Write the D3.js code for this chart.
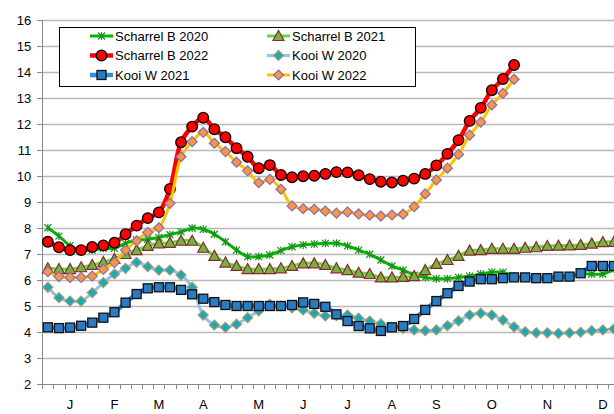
<!DOCTYPE html>
<meta charset="utf-8">
<style>
    body { margin: 0; background: #fff; }
    svg { display: block; font-family: "Liberation Sans", Arial, sans-serif; }
    .grid line { stroke: #b8b8b8; stroke-width: 1.5; }
    .axis path, .axis line { stroke: #888; shape-rendering: crispEdges; }
    .axis text { font-size: 13px; fill: #000; }
    .legend text { font-size: 13px; }
</style>
<body>
<script src="https://d3js.org/d3.v7.min.js"></script>
<script>
    // week numbers 1..52
    var weeks = d3.range(1, 53);

    // month labels and the week index they sit on
    var monthLabels = ["J", "F", "M", "A", "M", "J", "J", "A", "S", "O", "N", "D"];
    var monthWeek = [2, 6, 10, 14, 19, 23, 27, 31, 35, 40, 45, 50];

    var yTicks = [2, 3, 4, 5, 6, 7, 8, 9, 10, 11, 12, 13, 14, 15, 16];

    var scharrel2020 = [8.01, 7.69, 7.32, 7.15, 7.15, 7.22, 7.22, 7.41, 7.54, 7.56, 7.64, 7.74, 7.85, 7.99, 7.95, 7.76,
        7.47, 7.15, 6.90, 6.90, 6.96, 7.13, 7.28, 7.35, 7.38, 7.41, 7.41, 7.31, 7.15, 6.99, 6.77, 6.54,
        6.38, 6.19, 6.10, 6.05, 6.05, 6.10, 6.15, 6.23, 6.30, 6.30, 6.15, 6.10, 6.09, 6.09, 6.13, 6.13,
        6.23, 6.23, 6.23, 6.42];
    var scharrel2021 = [6.45, 6.42, 6.42, 6.49, 6.58, 6.69, 6.81, 7.00, 7.15, 7.31, 7.41, 7.43, 7.51, 7.51, 7.24, 6.93,
        6.67, 6.54, 6.42, 6.42, 6.42, 6.45, 6.54, 6.64, 6.64, 6.58, 6.45, 6.38, 6.28, 6.23, 6.10, 6.10,
        6.12, 6.15, 6.38, 6.62, 6.77, 6.93, 7.13, 7.15, 7.20, 7.20, 7.20, 7.24, 7.26, 7.31, 7.32, 7.33,
        7.35, 7.40, 7.46, 7.47];
    var scharrel2022 = [7.47, 7.26, 7.15, 7.15, 7.27, 7.33, 7.43, 7.76, 8.09, 8.38, 8.60, 9.50, 11.30, 11.90, 12.24, 11.80,
        11.49, 11.07, 10.74, 10.30, 10.42, 10.04, 9.95, 9.99, 10.01, 10.08, 10.15, 10.14, 10.03, 9.88, 9.78, 9.75,
        9.82, 9.90, 10.08, 10.41, 10.85, 11.38, 12.12, 12.62, 13.30, 13.73, 14.27];
    var kooi2020 = [5.72, 5.32, 5.19, 5.19, 5.51, 5.90, 6.23, 6.45, 6.68, 6.51, 6.38, 6.38, 6.19, 5.72, 4.65, 4.27,
        4.18, 4.30, 4.55, 4.81, 5.06, 5.00, 4.93, 4.85, 4.72, 4.62, 4.63, 4.65, 4.53, 4.42, 4.31, 4.18,
        4.14, 4.08, 4.05, 4.08, 4.24, 4.43, 4.65, 4.72, 4.65, 4.46, 4.20, 4.01, 3.97, 3.97, 3.95, 3.97,
        3.99, 4.05, 4.08, 4.12];
    var kooi2021 = [4.18, 4.15, 4.17, 4.24, 4.36, 4.55, 4.76, 5.13, 5.46, 5.68, 5.72, 5.72, 5.62, 5.45, 5.28, 5.15,
        5.04, 5.00, 5.00, 5.00, 5.00, 5.00, 5.04, 5.14, 5.08, 4.97, 4.68, 4.42, 4.23, 4.14, 4.04, 4.18,
        4.23, 4.50, 4.85, 5.19, 5.49, 5.77, 5.94, 6.03, 6.03, 6.07, 6.10, 6.10, 6.07, 6.07, 6.13, 6.13,
        6.26, 6.54, 6.54, 6.54];
    var kooi2022 = [6.32, 6.13, 6.10, 6.10, 6.15, 6.41, 6.67, 7.15, 7.51, 7.83, 8.01, 8.95, 10.74, 11.32, 11.68, 11.26,
        10.94, 10.53, 10.20, 9.74, 9.87, 9.49, 8.85, 8.74, 8.72, 8.65, 8.57, 8.62, 8.54, 8.49, 8.46, 8.50,
        8.53, 8.82, 9.31, 9.85, 10.30, 10.83, 11.57, 12.07, 12.73, 13.18, 13.72];

    var seriesNames = ["Scharrel B 2020", "Scharrel B 2021", "Scharrel B 2022", "Kooi W 2020", "Kooi W 2021", "Kooi W 2022"];
    var seriesValues = [scharrel2020, scharrel2021, scharrel2022, kooi2020, kooi2021, kooi2022];

    // styling per series
    var styles = [
        {line: "#00b400", width: 3, marker: "star", fill: "none", stroke: "#1e8c1e"},
        {line: "#6fd24a", width: 3, marker: "triangle", fill: "#72b341", stroke: "#8b2a2a"},
        {line: "#ff0000", width: 4.5, marker: "circle", fill: "#ff0000", stroke: "#000"},
        {line: "#8ec3ea", width: 3, marker: "diamond", fill: "#18aabb", stroke: "#a8996a"},
        {line: "#2f8fde", width: 4.5, marker: "square", fill: "#2b7bc2", stroke: "#111"},
        {line: "#ffc000", width: 3, marker: "diamond", fill: "#f79646", stroke: "#8a6bb0"}
    ];

    var width = 614, height = 414;
    var plotLeft = 42.3, plotTop = 20, plotBottom = 384;
    var band = 11.1;

    var svg = d3.select("body").append("svg")
        .attr("width", width)
        .attr("height", height);

    var x = d3.scaleBand()
        .domain(weeks)
        .range([plotLeft, plotLeft + band * weeks.length]);

    var y = d3.scaleLinear()
        .domain([2, 16])
        .range([plotBottom, plotTop]);

    function cx(i) { return x(weeks[i]) + x.bandwidth() / 2; }

    // horizontal gridlines
    svg.append("g")
        .attr("class", "grid")
        .selectAll("line")
        .data(yTicks.slice(1))
        .enter().append("line")
        .attr("x1", plotLeft)
        .attr("x2", width + 10)
        .attr("y1", function(d) { return Math.round(y(d)) + 0.5; })
        .attr("y2", function(d) { return Math.round(y(d)) + 0.5; });

    // y axis
    var yAxis = d3.axisLeft(y).tickValues(yTicks).tickSize(5).tickPadding(6);
    var gy = svg.append("g")
        .attr("class", "axis")
        .attr("transform", "translate(" + plotLeft + ",0)")
        .call(yAxis);
    gy.select(".domain").attr("d", "M0," + plotBottom + "V" + plotTop);

    // x axis, ticks between weeks
    var gx = svg.append("g").attr("class", "axis");
    gx.append("line")
        .attr("x1", plotLeft).attr("x2", width + 10)
        .attr("y1", plotBottom + 0.5).attr("y2", plotBottom + 0.5);
    gx.selectAll(".wtick")
        .data(weeks)
        .enter().append("line")
        .attr("class", "wtick")
        .attr("x1", function(d) { return Math.round(x(d)) + 0.5; })
        .attr("x2", function(d) { return Math.round(x(d)) + 0.5; })
        .attr("y1", plotBottom)
        .attr("y2", plotBottom + 5);
    gx.selectAll(".mlabel")
        .data(monthLabels)
        .enter().append("text")
        .attr("class", "mlabel")
        .attr("x", function(d, i) { return cx(monthWeek[i]); })
        .attr("y", 409)
        .attr("text-anchor", "middle")
        .text(function(d) { return d; });

    var line = d3.line()
        .x(function(d, i) { return cx(i); })
        .y(function(d) { return y(d); })
        .curve(d3.curveCatmullRom.alpha(0.5));

    function drawMarker(g, st, px, py) {
        if (st.marker === "circle") {
            g.append("circle").attr("cx", px).attr("cy", py).attr("r", 5.3)
                .attr("fill", st.fill).attr("stroke", st.stroke).attr("stroke-width", 1.3);
        } else if (st.marker === "square") {
            g.append("rect").attr("x", px - 4.5).attr("y", py - 4.5).attr("width", 9).attr("height", 9)
                .attr("fill", st.fill).attr("stroke", st.stroke).attr("stroke-width", 1.3);
        } else if (st.marker === "diamond") {
            g.append("path")
                .attr("d", "M" + px + "," + (py - 5) + "L" + (px + 5) + "," + py + "L" + px + "," + (py + 5) + "L" + (px - 5) + "," + py + "Z")
                .attr("fill", st.fill).attr("stroke", st.stroke).attr("stroke-width", 1.2);
        } else if (st.marker === "triangle") {
            g.append("path")
                .attr("d", "M" + px + "," + (py - 5.5) + "L" + (px + 5.5) + "," + (py + 4.5) + "L" + (px - 5.5) + "," + (py + 4.5) + "Z")
                .attr("fill", st.fill).attr("stroke", st.stroke).attr("stroke-width", 1.2);
        } else if (st.marker === "star") {
            g.append("path")
                .attr("d", "M" + (px - 3.5) + "," + (py - 3.5) + "L" + (px + 3.5) + "," + (py + 3.5) +
                    "M" + (px - 3.5) + "," + (py + 3.5) + "L" + (px + 3.5) + "," + (py - 3.5) +
                    "M" + px + "," + (py - 4) + "L" + px + "," + (py + 4))
                .attr("fill", "none").attr("stroke", st.stroke).attr("stroke-width", 1.2);
        }
    }

    seriesValues.forEach(function(vals, s) {
        var st = styles[s];
        var g = svg.append("g").attr("class", "series");
        g.append("path")
            .datum(vals)
            .attr("fill", "none")
            .attr("stroke", st.line)
            .attr("stroke-width", st.width)
            .attr("stroke-linejoin", "round")
            .attr("d", line);
        vals.forEach(function(v, i) {
            drawMarker(g, st, cx(i), y(v));
        });
    });

    // legend
    var legend = svg.append("g").attr("class", "legend");
    legend.append("rect")
        .attr("x", 59.5).attr("y", 27.5)
        .attr("width", 356).attr("height", 59)
        .attr("fill", "#fff").attr("stroke", "#000");

    var legX = [90, 267], legY = [36, 55.5, 75];
    seriesNames.forEach(function(name, s) {
        var col = s % 2, row = Math.floor(s / 2);
        var lx = legX[col], ly = legY[row];
        var st = styles[s];
        legend.append("line")
            .attr("x1", lx).attr("x2", lx + 23)
            .attr("y1", ly).attr("y2", ly)
            .attr("stroke", st.line).attr("stroke-width", st.width);
        drawMarker(legend, st, lx + 11.5, ly);
        legend.append("text")
            .attr("x", lx + 25)
            .attr("y", ly + 4.5)
            .text(name);
    });
</script>
</body>
